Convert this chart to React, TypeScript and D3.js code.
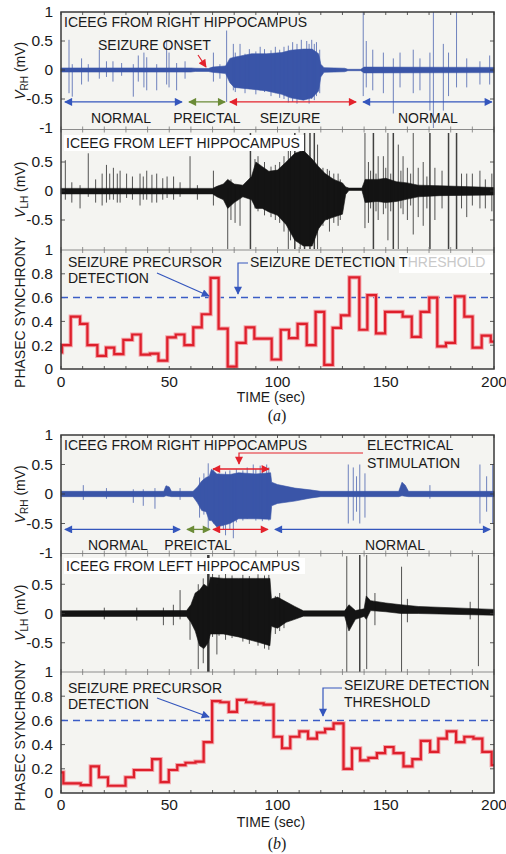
import React from 'react';
import * as d3 from 'd3';

// ---- data ----
const timeTicks = [0, 50, 100, 150, 200];
const rhTicks = [1, 0.5, 0, -0.5, -1];
const lhTicks = [0.5, 0, -0.5];
const syncTicks = [1, 0.8, 0.6, 0.4, 0.2, 0];
const threshold = 0.6;

// EEG envelopes: [time, low, high] in mV
const rhAEnv = [[0,-0.035,0.035],[60,-0.035,0.035],[62,-0.025,0.03],[68,-0.025,0.025],[70,-0.04,0.05],[76,-0.06,0.07],[78,-0.22,0.2],[80,-0.3,0.22],[88,-0.33,0.28],[95,-0.36,0.28],[102,-0.42,0.3],[106,-0.48,0.34],[112,-0.52,0.36],[116,-0.48,0.36],[119,-0.36,0.28],[120,-0.12,0.1],[121.5,-0.04,0.04],[131,-0.03,0.03],[132.5,-0.012,0.012],[138.5,-0.012,0.012],[140,-0.05,0.05],[200,-0.045,0.045]];
// spikes: [time, low, high]
const rhASpikes = [[3.7,-0.4,0.52],[5.2,-0.46,0.1],[9.5,-0.25,0.2],[12.6,-0.2,0.1],[17.7,-0.15,0.35],[21,-0.12,0.15],[24,-0.2,0.15],[28,-0.1,0.12],[33.4,-0.46,0.1],[35.7,-0.2,0.25],[38.3,-0.3,0.3],[39.6,-0.35,0.22],[44.2,-0.35,0.1],[48.8,-0.25,0.5],[49.9,-0.3,0.3],[53.4,-0.35,0.12],[57.3,-0.15,0.15],[70.4,-0.2,0.3],[73.4,-0.15,0.1],[76.5,-0.55,0.68],[79.6,-0.35,0.45],[80.5,-0.38,0.3],[82.7,-0.3,0.45],[85,-0.4,0.28],[87,-0.33,0.36],[90,-0.42,0.32],[92,-0.35,0.4],[94,-0.38,0.36],[97,-0.45,0.34],[99,-0.4,0.4],[101,-0.48,0.35],[103,-0.5,0.4],[105,-0.56,0.42],[107,-0.55,0.48],[109,-0.58,0.45],[111,-0.5,0.52],[113.5,-0.5,0.5],[114.6,-0.58,0.45],[115.8,-0.5,0.52],[117,-0.52,0.45],[118,-0.45,0.48],[119.5,-0.4,0.35],[139.6,-0.45,1],[141,-0.3,0.5],[144,-0.35,0.35],[148.9,-0.4,0.3],[153.5,-0.75,0.2],[156.6,-0.3,0.3],[162.7,-0.4,0.35],[165.8,-0.35,0.2],[170.4,-0.7,0.3],[172,-1,1],[176.6,-0.7,0.45],[179,-0.45,0.3],[182.7,-0.3,1],[187.4,-0.3,0.2],[193.5,-0.25,0.15],[198,-0.25,0.25]];

const lhAEnv = [[0,-0.05,0.045],[70,-0.05,0.045],[72,-0.1,0.08],[75,-0.15,0.12],[77,-0.3,0.2],[80,-0.2,0.12],[84,-0.1,0.1],[88,-0.15,0.25],[90,-0.3,0.5],[93,-0.3,0.42],[96,-0.36,0.34],[100,-0.42,0.36],[104,-0.58,0.5],[108,-0.85,0.65],[112,-0.95,0.7],[116,-0.95,0.55],[119,-0.65,0.42],[122,-0.5,0.3],[126,-0.45,0.2],[130,-0.4,0.14],[131.5,-0.06,0.07],[133,0.01,0.05],[139,0.01,0.05],[140.5,-0.2,0.2],[146,-0.18,0.2],[150,-0.2,0.22],[155,-0.18,0.16],[160,-0.14,0.14],[165,-0.1,0.1],[175,-0.08,0.09],[200,-0.07,0.06]];
const lhASpikes = [[2,-0.15,0.53],[5,-0.2,0.15],[8.8,-0.3,0.1],[12.6,-0.1,0.65],[16,-0.2,0.2],[19,-0.25,0.3],[21,-0.2,0.45],[22.5,-0.15,0.3],[24.2,-0.15,0.4],[26,-0.2,0.3],[27.3,-0.2,0.35],[30.3,-0.12,0.3],[33,-0.15,0.25],[36.5,-0.25,0.3],[38,-0.15,0.25],[39.6,-0.15,0.35],[42,-0.2,0.28],[44.2,-0.2,0.3],[47,-0.15,0.22],[49,-0.12,0.25],[52,-0.15,0.25],[55,-0.1,0.15],[59.6,-0.05,0.6],[63,-0.15,0.1],[70.4,-0.25,0.35],[77,-1,0.05],[78.5,-0.5,0.2],[80.4,-0.55,0.1],[82.7,-0.6,0.1],[87.5,-1,1],[89.6,-0.3,0.55],[91,-0.35,0.6],[94,-0.42,0.5],[97,-0.45,0.42],[99,-0.5,0.45],[101,-0.55,0.5],[103,-0.7,0.6],[105,-1,0.8],[106,-0.85,0.7],[108,-1,1],[110.5,-1,0.9],[112.5,-1,1],[115,-1,1],[117,-1,1],[118.5,-1,0.8],[121,-0.6,0.4],[123,-0.5,0.38],[124,-0.7,0.35],[126,-0.55,0.3],[128,-0.6,0.3],[129,-0.5,0.2],[140.4,-0.64,1],[142,-0.55,0.5],[143,-0.3,0.35],[144.3,-1,1],[145.5,-0.35,0.3],[146.5,-0.5,0.6],[148.9,-0.4,0.6],[150,-0.3,0.4],[151,-0.85,1],[152.3,-0.35,0.3],[153.5,-1,1],[155.8,-1,0.8],[157,-0.3,0.35],[158,-0.4,0.6],[160,-0.5,0.4],[161.5,-0.25,0.3],[162.7,-0.75,1],[165,-0.45,0.4],[167.3,-0.6,0.5],[169,-0.3,0.25],[170.4,-1,1],[172.7,-0.5,0.4],[176,-0.3,0.35],[179,-1,1],[182.7,-1,1],[185,-0.3,0.3],[187.4,-0.45,0.3],[190,-0.25,0.3],[193.5,-0.3,0.35],[196,-0.3,0.2],[199,-0.35,0.3]];

const rhBEnv = [[0,-0.045,0.045],[47.5,-0.045,0.045],[48.5,-0.03,0.14],[50,-0.04,0.12],[51,-0.045,0.045],[61,-0.045,0.045],[63,-0.15,0.12],[65,-0.28,0.22],[67,-0.3,0.28],[68.5,-0.45,0.3],[69.5,-0.45,0.42],[72,-0.56,0.34],[78,-0.5,0.33],[82,-0.42,0.36],[90,-0.42,0.34],[96.8,-0.43,0.36],[97.3,-0.2,0.2],[100,-0.16,0.16],[108,-0.12,0.1],[115,-0.07,0.07],[120,-0.045,0.045],[156,-0.045,0.045],[157.5,-0.03,0.2],[159,-0.04,0.15],[160.5,-0.045,0.045],[200,-0.045,0.045]];
const rhBSpikes = [[10.3,-0.1,0.15],[21,-0.08,0.1],[33.4,-0.15,0.08],[38,-0.2,0.08],[43.4,-0.25,0.1],[55,-0.1,0.1],[64,-0.4,0.28],[66,-0.35,0.35],[68,-0.6,0.52],[70.5,-0.5,0.42],[73,-0.65,0.35],[75,-0.6,0.3],[76,-0.7,0.38],[78,-0.6,0.4],[79.6,-0.75,0.3],[81,-0.48,0.42],[84,-0.45,0.4],[86,-0.42,0.45],[88.8,-0.4,0.5],[90,-0.45,0.42],[92,-0.4,0.48],[93,-0.46,0.43],[95,-0.4,0.5],[96,-0.45,0.45],[132.7,-0.5,0.5],[135,-0.45,0.45],[136.5,-0.3,0.3],[138,-0.5,0.5],[140.4,-0.4,0.35],[170.4,-0.08,0.15],[193.5,-0.5,0.5],[196.6,-0.3,0.3],[199.4,-0.5,0.5]];

const lhBEnv = [[0,-0.05,0.045],[58,-0.05,0.05],[60,-0.15,0.15],[62,-0.3,0.35],[64,-0.55,0.4],[66,-0.6,0.5],[68,-0.5,0.45],[69,-0.35,0.62],[75,-0.35,0.6],[82,-0.4,0.6],[90,-0.48,0.6],[96.5,-0.55,0.6],[97.2,-0.22,0.25],[100,-0.25,0.28],[104,-0.15,0.2],[108,-0.1,0.12],[112,-0.045,0.045],[131,-0.045,0.045],[133,-0.3,0.15],[136,-0.1,0.05],[140,-0.05,0.08],[141,-0.1,0.3],[143,0.05,0.22],[150,0.03,0.18],[157,0,0.15],[165,0,0.12],[200,-0.03,0.07]];
const lhBSpikes = [[20,-0.1,0.1],[35,-0.12,0.1],[47.3,-0.2,0.1],[51.9,-0.2,0.15],[55,-0.1,0.4],[59.6,-0.45,0.1],[63.4,-0.95,0.5],[65.7,-0.85,0.6],[67.8,-1,1],[68.3,-1,1],[70,-0.4,0.7],[72,-0.7,0.5],[73,-0.38,0.66],[76,-0.45,0.68],[79,-0.42,0.65],[84,-0.48,0.66],[87,-0.52,0.64],[91,-0.55,0.67],[94,-0.6,0.65],[96,-0.62,0.66],[99,-0.35,0.3],[101,-0.3,0.35],[103,-0.25,0.2],[132,-1,0.98],[138,-1,1],[141.2,-0.95,1],[145,-0.2,0.35],[157.3,-1,0.8],[160,-0.15,0.25],[189,-0.1,0.2],[192.8,-0.9,1]];

// phase synchrony, step start times and values
const syncATimes = [0,0.5,4.5,8.8,12.2,16.8,20.8,24.6,28.8,32.9,36.8,41.1,45,49.1,53,57,61.1,65,69.1,72.8,77,81.1,85.3,89.3,97.3,101.5,105.3,109.3,113.5,117.6,121.6,125.5,129.3,133.2,137.8,141.5,145.5,149.7,153.5,157.8,162,166.1,170.1,173.8,177.8,182,186.3,190.1,194.3,198.5];
const syncAValues = [0.14,0.2,0.44,0.38,0.2,0.11,0.18,0.125,0.245,0.29,0.12,0.13,0.07,0.265,0.29,0.2,0.35,0.46,0.765,0.34,0.02,0.22,0.35,0.255,0.08,0.33,0.26,0.38,0.2,0.48,0.035,0.345,0.45,0.77,0.33,0.62,0.3,0.48,0.48,0.44,0.27,0.48,0.6,0.19,0.22,0.61,0.44,0.18,0.28,0.23];
const syncBTimes = [0,1.1,9.1,13.7,17.5,21.7,26,29.8,33.7,38.3,42.1,46,49.8,53.7,57.5,62.1,65.9,69.8,73.6,77.5,81.3,85.5,89.8,93.6,98.2,102.1,105.9,110.1,114.1,118.2,122,125.9,130.5,134.4,138.2,142,145.9,149.7,153.6,158.2,162.3,166.2,170.5,174.3,178.2,182.5,186.3,190.5,194.6,198.9];
const syncBValues = [0.17,0.08,0.065,0.22,0.13,0.06,0.06,0.13,0.19,0.19,0.28,0.09,0.19,0.23,0.25,0.26,0.42,0.76,0.75,0.67,0.77,0.75,0.74,0.73,0.465,0.37,0.465,0.51,0.45,0.5,0.53,0.575,0.2,0.37,0.27,0.29,0.33,0.38,0.33,0.22,0.28,0.43,0.34,0.45,0.51,0.42,0.465,0.45,0.34,0.23];

// period bars under the right-hippocampus trace: [start, end, label, labelAt]
const periodsA = [[1.8, 55.9, 'NORMAL', 27.7], [59.1, 75.8, 'PREICTAL', 67.4], [78, 136.3, 'SEIZURE', 105.8], [139.5, 199, 'NORMAL', 169.5]];
const periodsB = [[1.8, 55, 'NORMAL', 26.3], [58.2, 68.8, 'PREICTAL', 63.3], [70.2, 95.6, '', 0], [98.8, 198.2, 'NORMAL', 154.3]];
const periodColors = ['blue', 'green', 'red', 'blue'];

const FONT = "'Liberation Sans', Arial, Helvetica, sans-serif";
const COL: any = { blue: '#3456bd', green: '#6b8b37', red: '#e3222c' };
const TRACE_BLUE = '#3a55a8';
const BG = '#f4f4f1';

const x = d3.scaleLinear().domain([0, 200]).range([61, 494]);

const layoutA = { top: 12, sep1: 129.5, sep2: 250, bottom: 369, rh: [128, 12], lh: [249, 133], sync: [369, 250], arrowV: -0.55, labelY: 123, tickY: 387, titleY: 402, capY: 421, cap: 'a' };
const layoutB = { top: 435, sep1: 553.5, sep2: 672, bottom: 793, rh: [553, 435], lh: [672, 555], sync: [793, 672], arrowV: -0.6, labelY: 550, tickY: 810, titleY: 827, capY: 849, cap: 'b' };

function Trace({ env, spikes, y, color, thick }: any) {
  const area = d3.area<number[]>().x(d => x(d[0])).y0(d => y(d[1])).y1(d => y(d[2]));
  return (
    <g>
      <path d={area(env) || ''} fill={color} stroke={color} strokeWidth={0.6} strokeLinejoin="round" />
      {spikes.map((s: number[], i: number) => (
        <line key={i} x1={x(s[0])} x2={x(s[0])} y1={y(s[1])} y2={y(s[2])} stroke={color}
          strokeWidth={thick && s[1] <= -1 && s[2] >= 1 ? 1.5 : 0.9} strokeOpacity={0.8} />
      ))}
    </g>
  );
}

function Figure({ L, rhEnv, rhSpikes, lhEnv, lhSpikes, syncTimes, syncValues, periods, children }: any) {
  const yRH = d3.scaleLinear().domain([-1, 1]).range(L.rh);
  const yLH = d3.scaleLinear().domain([-1, 1]).range(L.lh);
  const yS = d3.scaleLinear().domain([0, 1]).range(L.sync);
  const pts = syncTimes.map((t: number, i: number) => [t, syncValues[i]]);
  pts.push([200, syncValues[syncValues.length - 1]]);
  const step = d3.line<number[]>().x(d => x(d[0])).y(d => yS(d[1])).curve(d3.curveStepAfter);
  const minor = d3.range(0, 201, 10);
  const x0 = x(0), x1 = x(200);
  const rows = [L.top, L.sep1, L.sep2, L.bottom];
  const yTickSets: [any, number[]][] = [[yRH, [0.5, 0, -0.5]], [yLH, lhTicks], [yS, [0.2, 0.4, 0.6, 0.8]]];

  return (
    <g fontFamily={FONT}>
      <rect x={x0} y={L.top} width={x1 - x0} height={L.bottom - L.top} fill={BG} />

      <Trace env={rhEnv} spikes={rhSpikes} y={yRH} color={TRACE_BLUE} />
      <Trace env={lhEnv} spikes={lhSpikes} y={yLH} color="#141414" thick />

      {/* separators & ticks */}
      {[L.sep1, L.sep2].map((r: number, i: number) => (
        <line key={i} x1={x0} x2={x1} y1={r} y2={r} stroke="#8c8c8c" strokeWidth={1.2} />
      ))}
      {rows.map((r: number, ri: number) => minor.map((t: number) => (
        <line key={ri + '-' + t} x1={x(t)} x2={x(t)}
          y1={ri === 0 ? r : r - 3} y2={ri === 3 ? r : r + 3}
          stroke={ri === 0 || ri === 3 ? '#333' : '#777'} strokeWidth={0.8} />
      )))}
      {yTickSets.map(([sc, vals], i) => vals.map((v: number) => (
        <g key={i + '-' + v}>
          <line x1={x0} x2={x0 + 4} y1={sc(v)} y2={sc(v)} stroke="#333" strokeWidth={0.8} />
          <line x1={x1 - 4} x2={x1} y1={sc(v)} y2={sc(v)} stroke="#333" strokeWidth={0.8} />
        </g>
      )))}

      {/* threshold + synchrony */}
      <line x1={x0} x2={x1} y1={yS(threshold)} y2={yS(threshold)} stroke="#3a5cc6" strokeWidth={1.5} strokeDasharray="7,5" />
      <path d={step(pts) || ''} fill="none" stroke="#f4a4aa" strokeWidth={4.2} strokeLinejoin="miter" />
      <path d={step(pts) || ''} fill="none" stroke="#de1f2b" strokeWidth={2.2} strokeLinejoin="miter" />

      <rect x={x0} y={L.top} width={x1 - x0} height={L.bottom - L.top} fill="none" stroke="#3a3a3a" strokeWidth={1.5} />

      {/* period arrows */}
      {periods.map((p: any[], i: number) => (
        <g key={i}>
          <line x1={x(p[0])} x2={x(p[1])} y1={yRH(L.arrowV)} y2={yRH(L.arrowV)} stroke={COL[periodColors[i]]} strokeWidth={1.3}
            markerStart={`url(#ah-${periodColors[i]})`} markerEnd={`url(#ah-${periodColors[i]})`} />
          {p[2] && <text x={x(p[3])} y={L.labelY} textAnchor="middle" fontSize={14} fill="#1a1a1a">{p[2]}</text>}
        </g>
      ))}

      {/* y tick labels */}
      {rhTicks.map(v => <text key={'r' + v} x={53} y={yRH(v)} dy="0.35em" textAnchor="end" fontSize={15.5} fill="#1a1a1a">{v}</text>)}
      {lhTicks.map(v => <text key={'l' + v} x={53} y={yLH(v)} dy="0.35em" textAnchor="end" fontSize={15.5} fill="#1a1a1a">{v}</text>)}
      {syncTicks.map(v => <text key={'s' + v} x={53} y={yS(v)} dy="0.35em" textAnchor="end" fontSize={15.5} fill="#1a1a1a">{v}</text>)}

      {/* x tick labels */}
      {timeTicks.map(t => <text key={t} x={x(t)} y={L.tickY} textAnchor="middle" fontSize={15.5} fill="#1a1a1a">{t}</text>)}
      <text x={271} y={L.titleY} textAnchor="middle" fontSize={14} fill="#1a1a1a">TIME (sec)</text>
      <text x={277} y={L.capY} textAnchor="middle" fontSize={16} fontFamily="'Liberation Serif', 'Times New Roman', serif" fill="#1a1a1a">
        (<tspan fontStyle="italic">{L.cap}</tspan>)
      </text>

      {/* y axis titles */}
      <text transform={`translate(25,${(L.top + L.sep1) / 2}) rotate(-90)`} textAnchor="middle" fontSize={14} fill="#1a1a1a">
        <tspan fontStyle="italic">V</tspan><tspan fontSize={10} dy={3}>RH</tspan><tspan dy={-3}> (mV)</tspan>
      </text>
      <text transform={`translate(25,${(L.sep1 + L.sep2) / 2}) rotate(-90)`} textAnchor="middle" fontSize={14} fill="#1a1a1a">
        <tspan fontStyle="italic">V</tspan><tspan fontSize={10} dy={3}>LH</tspan><tspan dy={-3}> (mV)</tspan>
      </text>
      <text transform={`translate(25,${(L.sep2 + L.bottom) / 2 + 3}) rotate(-90)`} textAnchor="middle" fontSize={14} fill="#1a1a1a">
        PHASEC SYNCHRONY
      </text>

      {children}
    </g>
  );
}

export default function App() {
  const markers = ['blue', 'green', 'red'];
  return (
    <svg width={506} height={854} viewBox="0 0 506 854" style={{ position: 'absolute', left: 0, top: 0, background: '#fff' }}>
      <defs>
        {markers.map(c => (
          <marker key={c} id={`ah-${c}`} viewBox="0 0 10 10" refX={9} refY={5} markerWidth={9} markerHeight={8}
            markerUnits="userSpaceOnUse" orient="auto-start-reverse">
            <path d="M0,0 L10,5 L0,10 z" fill={COL[c]} />
          </marker>
        ))}
      </defs>

      <Figure L={layoutA} rhEnv={rhAEnv} rhSpikes={rhASpikes} lhEnv={lhAEnv} lhSpikes={lhASpikes}
        syncTimes={syncATimes} syncValues={syncAValues} periods={periodsA}>
        <g fontFamily={FONT} fontSize={14} fill="#1a1a1a">
          <text x={64} y={27}>ICEEG FROM RIGHT HIPPOCAMPUS</text>
          <text x={98} y={50}>SEIZURE ONSET</text>
          <line x1={198} y1={55} x2={206} y2={67} stroke={COL.red} strokeWidth={1.2} markerEnd="url(#ah-red)" />
          <rect x={64} y={135} width={240} height={16} fill="#fff" />
          <text x={66} y={148}>ICEEG FROM LEFT HIPPOCAMPUS</text>
          <text x={68} y={267}>SEIZURE PRECURSOR</text>
          <text x={68} y={283}>DETECTION</text>
          <line x1={157} y1={273} x2={209} y2={296} stroke={COL.blue} strokeWidth={1.2} markerEnd="url(#ah-blue)" />
          <rect x={399} y={255} width={94} height={18} fill="#fff" />
          <text x={250} y={267}>SEIZURE DETECTION T<tspan fill="#c9c9c9">HRESHOLD</tspan></text>
          <polyline points="248,263 238,263 238,294" fill="none" stroke={COL.blue} strokeWidth={1.2} markerEnd="url(#ah-blue)" />
        </g>
      </Figure>

      <Figure L={layoutB} rhEnv={rhBEnv} rhSpikes={rhBSpikes} lhEnv={lhBEnv} lhSpikes={lhBSpikes}
        syncTimes={syncBTimes} syncValues={syncBValues} periods={periodsB}>
        <g fontFamily={FONT} fontSize={14} fill="#1a1a1a">
          <text x={64} y={450}>ICEEG FROM RIGHT HIPPOCAMPUS</text>
          <text x={367} y={450}>ELECTRICAL</text>
          <text x={367} y={468}>STIMULATION</text>
          <polyline points="363,453 239,453 239,464" fill="none" stroke={COL.red} strokeWidth={1.2} markerEnd="url(#ah-red)" />
          <line x1={x(70.2)} x2={x(96)} y1={469} y2={469} stroke={COL.red} strokeWidth={1.3}
            markerStart="url(#ah-red)" markerEnd="url(#ah-red)" />
          <rect x={64} y={558} width={241} height={16} fill="#fff" />
          <text x={66} y={571}>ICEEG FROM LEFT HIPPOCAMPUS</text>
          <text x={68} y={693}>SEIZURE PRECURSOR</text>
          <text x={68} y={709}>DETECTION</text>
          <line x1={157} y1={698} x2={209} y2={717} stroke={COL.blue} strokeWidth={1.2} markerEnd="url(#ah-blue)" />
          <text x={344} y={690}>SEIZURE DETECTION</text>
          <text x={344} y={707}>THRESHOLD</text>
          <polyline points="342,688 323,688 323,716" fill="none" stroke={COL.blue} strokeWidth={1.2} markerEnd="url(#ah-blue)" />
        </g>
      </Figure>
    </svg>
  );
}
